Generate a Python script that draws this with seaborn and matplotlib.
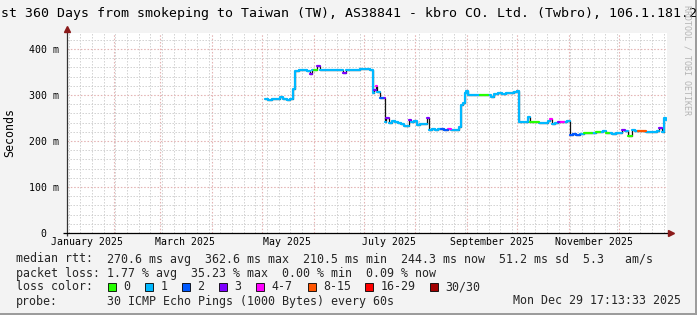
import numpy as np
import pandas as pd
import matplotlib
matplotlib.use("Agg")
import matplotlib.pyplot as plt
import matplotlib.dates as mdates
from matplotlib.ticker import MultipleLocator, FixedLocator, NullFormatter, FixedFormatter
from matplotlib.patches import Rectangle
import seaborn as sns

# ---------------- data ----------------
title = "st 360 Days from smokeping to Taiwan (TW), AS38841 - kbro CO. Ltd. (Twbro), 106.1.181.2"
start = "2025-01-03 17:13:33"
end = "2025-12-29 17:13:33"

dates = [
    "2025-05-03 00:00", "2025-05-04 19:00", "2025-05-07 05:00", "2025-05-09 14:00",
    "2025-05-12 00:00", "2025-05-13 19:00", "2025-05-16 05:00", "2025-05-18 00:00",
    "2025-05-19 19:00", "2025-05-21 00:00", "2025-05-23 10:00", "2025-05-25 19:00",
    "2025-05-28 05:00", "2025-05-30 00:00", "2025-05-31 05:00", "2025-06-01 02:00",
    "2025-06-03 00:00", "2025-06-05 00:00", "2025-06-08 00:00", "2025-06-11 00:00",
    "2025-06-14 00:00", "2025-06-17 00:00", "2025-06-18 19:00", "2025-06-20 14:00",
    "2025-06-23 00:00", "2025-06-26 00:00", "2025-06-29 00:00", "2025-07-02 00:00",
    "2025-07-05 00:00", "2025-07-06 12:00", "2025-07-07 10:00", "2025-07-08 07:00",
    "2025-07-09 05:00", "2025-07-11 00:00", "2025-07-12 12:00", "2025-07-13 17:00",
    "2025-07-14 14:00", "2025-07-16 10:00", "2025-07-18 05:00", "2025-07-20 00:00",
    "2025-07-21 19:00", "2025-07-23 14:00", "2025-07-25 10:00", "2025-07-27 05:00",
    "2025-07-28 02:00", "2025-07-29 14:00", "2025-07-31 10:00", "2025-08-02 00:00",
    "2025-08-04 00:00", "2025-08-05 19:00", "2025-08-08 00:00", "2025-08-09 02:00",
    "2025-08-11 05:00", "2025-08-13 00:00", "2025-08-14 19:00", "2025-08-16 14:00",
    "2025-08-18 10:00", "2025-08-20 19:00", "2025-08-22 14:00", "2025-08-25 00:00",
    "2025-08-27 10:00", "2025-08-28 07:00", "2025-08-29 12:00", "2025-08-30 17:00",
    "2025-08-31 14:00", "2025-09-01 19:00", "2025-09-04 05:00", "2025-09-06 14:00",
    "2025-09-09 00:00", "2025-09-11 10:00", "2025-09-13 19:00", "2025-09-15 14:00",
    "2025-09-17 10:00", "2025-09-19 19:00", "2025-09-22 05:00", "2025-09-24 14:00",
    "2025-09-27 00:00", "2025-09-29 10:00", "2025-10-01 05:00", "2025-10-02 10:00",
    "2025-10-04 05:00", "2025-10-06 00:00", "2025-10-07 12:00", "2025-10-09 00:00",
    "2025-10-10 19:00", "2025-10-12 14:00", "2025-10-14 10:00", "2025-10-16 05:00",
    "2025-10-18 00:00", "2025-10-19 19:00", "2025-10-21 00:00", "2025-10-22 05:00",
    "2025-10-24 00:00", "2025-10-25 19:00", "2025-10-27 14:00", "2025-10-29 10:00",
    "2025-10-31 05:00", "2025-11-01 14:00", "2025-11-03 10:00", "2025-11-05 05:00",
    "2025-11-07 14:00", "2025-11-10 00:00", "2025-11-12 10:00", "2025-11-14 19:00",
    "2025-11-17 05:00", "2025-11-19 14:00", "2025-11-21 10:00", "2025-11-23 05:00",
    "2025-11-25 00:00", "2025-11-26 19:00", "2025-11-29 05:00", "2025-12-02 00:00",
    "2025-12-03 05:00", "2025-12-05 00:00", "2025-12-06 12:00", "2025-12-08 00:00",
    "2025-12-09 05:00", "2025-12-11 00:00", "2025-12-12 19:00", "2025-12-15 05:00",
    "2025-12-17 14:00", "2025-12-20 00:00", "2025-12-22 10:00", "2025-12-24 05:00",
    "2025-12-25 10:00", "2025-12-26 22:00", "2025-12-28 00:00", "2025-12-29 05:00",
]

rtt_ms = [
    291, 290, 292, 291,
    296, 291, 290, 292,
    312, 352, 354, 355,
    353, 346, 355, 354,
    362, 355, 354, 355,
    354, 355, 347, 354,
    355, 354, 356, 356,
    355, 304, 311, 320,
    307, 293, 294, 242,
    249, 240, 243, 242,
    239, 236, 232, 233,
    246, 241, 243, 234,
    236, 237, 251, 224,
    226, 224, 226, 227,
    224, 226, 223, 224,
    231, 278, 283, 304,
    308, 300, 300, 300,
    301, 300, 299, 296,
    303, 304, 303, 304,
    305, 306, 308, 242,
    241, 242, 252, 242,
    241, 241, 240, 239,
    240, 244, 248, 238,
    240, 241, 242, 241,
    244, 214, 215, 214,
    216, 218, 217, 218,
    219, 220, 222, 218,
    217, 216, 217, 218,
    225, 221, 210, 211,
    223, 221, 222, 221,
    220, 219, 220, 222,
    228, 220, 249, 245,
]

loss_class = [
    1, 1, 1, 1,
    1, 1, 1, 1,
    1, 1, 1, 1,
    1, 3, 1, 0,
    3, 1, 1, 1,
    1, 1, 3, 1,
    1, 1, 1, 1,
    1, 1, 3, 4,
    1, 2, 3, 1,
    3, 1, 1, 1,
    1, 1, 1, 1,
    3, 1, 1, 1,
    1, 1, 3, 1,
    1, 1, 1, 2,
    2, 4, 1, 1,
    1, 1, 1, 1,
    1, 1, 1, 1,
    0, 0, 1, 1,
    1, 1, 1, 1,
    1, 1, 1, 1,
    1, 1, 1, 0,
    0, 0, 1, 1,
    1, 1, 4, 1,
    1, 3, 4, 1,
    1, 2, 2, 2,
    1, 0, 0, 1,
    0, 1, 1, 0,
    1, 1, 1, 1,
    3, 1, 0, 0,
    1, 1, 5, 5,
    1, 1, 1, 1,
    3, 1, 1, 1,
]

loss_labels = ["0", "1", "2", "3", "4-7", "8-15", "16-29", "30/30"]
loss_colors = ["#26ff00", "#00b8ff", "#0059ff", "#7e00ff", "#ff00ff", "#ff5500", "#ff0000", "#a10000"]

month_labels = ["January 2025", "March 2025", "May 2025", "July 2025", "September 2025", "November 2025"]
month_label_dates = ["2025-01-16", "2025-03-16", "2025-05-16", "2025-07-16", "2025-09-16", "2025-11-16"]

yticks = [0, 100, 200, 300, 400]
ytick_labels = ["0  ", "100 m", "200 m", "300 m", "400 m"]

stats_rtt = "270.6 ms avg  362.6 ms max  210.5 ms min  244.3 ms now  51.2 ms sd  5.3   am/s"
stats_loss = "1.77 % avg  35.23 % max  0.00 % min  0.09 % now"
probe_text = "30 ICMP Echo Pings (1000 Bytes) every 60s"
stamp_text = "Mon Dec 29 17:13:33 2025"
watermark = "RRDTOOL / TOBI OETIKER"

# ---------------- style ----------------
sns.set_theme(style="white")
plt.rcParams["font.family"] = ["DejaVu Sans Mono"]
plt.rcParams["axes.unicode_minus"] = False

W, H = 697, 315
BG = "#f3f3f3"
fig = plt.figure(figsize=(W / 100, H / 100), dpi=100, facecolor=BG)

PL, PR, PB, PT = 66.5, 666.5, 233.0, 32.5
ax = fig.add_axes([PL / W, (H - PB) / H, (PR - PL) / W, (PB - PT) / H])
ax.set_facecolor("white")

def fx(px):
    return px / W

def fy(py):
    return 1 - py / H

# ---------------- series ----------------
df = pd.DataFrame({"date": pd.to_datetime(dates), "rtt": rtt_ms, "loss": loss_class})
end_ts = pd.Timestamp(end)
start_ts = pd.Timestamp(start)
next_date = df["date"].shift(-1).fillna(end_ts)

# black connecting median line
line_df = pd.concat([df[["date", "rtt"]],
                     pd.DataFrame({"date": [end_ts], "rtt": [df["rtt"].iloc[-1]]})],
                    ignore_index=True)
sns.lineplot(data=line_df, x="date", y="rtt", color="#111111", lw=0.9,
             drawstyle="steps-post", estimator=None, ax=ax, legend=False)

# colored runs by loss class
run_id = (df["loss"] != df["loss"].shift()).cumsum()
parts = []
for rid, g in df.groupby(run_id):
    seg = g[["date", "rtt", "loss"]].copy()
    tail = pd.DataFrame({"date": [next_date[g.index[-1]]],
                         "rtt": [g["rtt"].iloc[-1]],
                         "loss": [g["loss"].iloc[-1]]})
    seg = pd.concat([seg, tail], ignore_index=True)
    seg["run"] = rid
    parts.append(seg)
segs = pd.concat(parts, ignore_index=True)
segs["loss_label"] = segs["loss"].map(lambda i: loss_labels[i])
sns.lineplot(data=segs, x="date", y="rtt", hue="loss_label", units="run",
             estimator=None, palette=dict(zip(loss_labels, loss_colors)),
             drawstyle="steps-post", lw=1.6, ax=ax, legend=False, sort=False)

# ---------------- axes ----------------
ax.set_xlim(start_ts, end_ts)
ax.set_ylim(0, (PB - PT) / 0.46)
ax.set_xlabel("")
ax.set_ylabel("")

ax.xaxis.set_major_locator(mdates.MonthLocator(bymonthday=1))
ax.xaxis.set_minor_locator(mdates.WeekdayLocator(byweekday=mdates.SU))
ax.xaxis.set_major_formatter(NullFormatter())
ax.xaxis.set_minor_formatter(NullFormatter())
ax.yaxis.set_major_locator(FixedLocator(yticks))
ax.yaxis.set_major_formatter(FixedFormatter(ytick_labels))
ax.yaxis.set_minor_locator(MultipleLocator(20))

ax.grid(which="minor", color="#d0d0d0", linestyle=(0, (1.4, 1.6)), lw=0.72)
ax.grid(which="major", color="#e4b4b4", linestyle=(0, (1.4, 1.6)), lw=0.8)
ax.set_axisbelow(True)

ax.tick_params(axis="x", which="major", length=2, width=0.7, color="#d88080", direction="out")
ax.tick_params(axis="x", which="minor", length=0)
ax.tick_params(axis="y", which="major", length=3, width=0.7, color="#d88080", direction="out",
               labelsize=7.1, pad=2.5, labelcolor="black")
ax.tick_params(axis="y", which="minor", length=0)

for s in ax.spines.values():
    s.set_visible(False)

# axis lines with arrows
ax.plot([0, 0], [(PB - 236) / (PB - PT), (PB - 29) / (PB - PT)], transform=ax.transAxes,
        color="#333333", lw=0.9, clip_on=False, solid_capstyle="butt")
ax.plot([(63 - PL) / (PR - PL), (669 - PL) / (PR - PL)], [0, 0], transform=ax.transAxes,
        color="black", lw=0.9, clip_on=False, solid_capstyle="butt")
ax.plot([0], [(PB - 29) / (PB - PT)], marker="^", ms=4, color="#8b1a1a", mec="#8b1a1a",
        transform=ax.transAxes, clip_on=False)
ax.plot([(671 - PL) / (PR - PL)], [0], marker=">", ms=4, color="#8b1a1a", mec="#8b1a1a",
        transform=ax.transAxes, clip_on=False)

# month labels centered mid-month
for lab, d in zip(month_labels, month_label_dates):
    ax.text(pd.Timestamp(d), -(242 - PB) / (PB - PT), lab,
            transform=ax.get_xaxis_transform(), ha="center", va="center",
            fontsize=7.1, color="black", clip_on=False)

# ---------------- texts ----------------
fig.text(fx(1), fy(14), title, ha="left", va="center", fontsize=9.5, color="black")
fig.text(fx(686.5), fy(5), watermark, rotation=270, ha="center", va="top",
         fontsize=6, color="#b4b4b4")
fig.text(fx(10), fy((PB + PT) / 2), "Seconds", rotation=90, ha="center", va="center",
         fontsize=8.4, color="black")

LEG = 8.4
fig.text(fx(15.6), fy(259), "median rtt:", ha="left", va="center", fontsize=LEG)
fig.text(fx(106.7), fy(259), stats_rtt, ha="left", va="center", fontsize=LEG)
fig.text(fx(15.6), fy(273), "packet loss:", ha="left", va="center", fontsize=LEG)
fig.text(fx(106.7), fy(273), stats_loss, ha="left", va="center", fontsize=LEG)
fig.text(fx(15.6), fy(287), "loss color:", ha="left", va="center", fontsize=LEG)
box_x = [108, 145, 182, 219, 256, 307.6, 365, 430]
for bx, lab, col in zip(box_x, loss_labels, loss_colors):
    fig.patches.append(Rectangle((fx(bx), fy(291)), 8 / W, 8 / H, transform=fig.transFigure,
                                 facecolor=col, edgecolor="black", lw=0.6))
    fig.text(fx(bx + 15.5), fy(287), lab, ha="left", va="center", fontsize=LEG)
fig.text(fx(15.6), fy(301), "probe:", ha="left", va="center", fontsize=LEG)
fig.text(fx(106.7), fy(301), probe_text, ha="left", va="center", fontsize=LEG)
fig.text(fx(681), fy(301), stamp_text, ha="right", va="center", fontsize=LEG)

# frame shading (right / bottom)
fig.patches.append(Rectangle((fx(694.5), 0), 2.5 / W, 1, transform=fig.transFigure,
                             facecolor="#9c9c9c", edgecolor="none"))
fig.patches.append(Rectangle((0, 0), 1, 2.5 / H, transform=fig.transFigure,
                             facecolor="#9c9c9c", edgecolor="none"))

fig.savefig("out.png", dpi=100, facecolor=BG)
